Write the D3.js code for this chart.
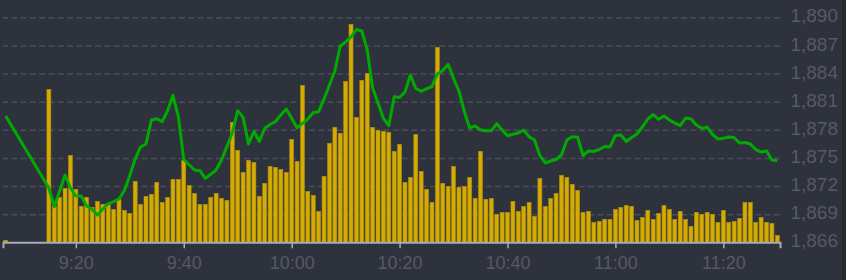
<!DOCTYPE html>
<html>
<head>
<meta charset="utf-8">
<script src="https://cdn.jsdelivr.net/npm/d3@7"></script>
<style>
  html, body { margin: 0; padding: 0; background: #2e323c; }
  svg { display: block; }
</style>
</head>
<body>
<svg id="chart"></svg>
<script>
'use strict';

// one pre-open print, then the minutes 9:15 .. 11:30
const PRE_TIME = '9:07';
const SESSION_START = '9:15';
const SESSION_END = '11:30';

const volumes = [
  2,
  153, 36, 45, 54, 87, 53, 36, 45, 35, 41, 38, 39, 33, 43, 32, 29,
  61, 38, 46, 48, 60, 40, 45, 63, 63, 82,
  57, 49, 38, 38, 45, 49, 44, 42, 120, 92,
  70, 82, 80, 46, 59, 76, 75, 73, 70, 103,
  81, 157, 51, 47, 31, 66, 99, 115, 109, 161,
  218, 125, 162, 169, 115, 112, 111, 110, 91, 98,
  60, 65, 108, 71, 53, 40, 195, 59, 56, 76,
  55, 56, 65, 44, 91, 43, 44, 28, 30, 30,
  41, 31, 36, 40, 26, 64, 36, 44, 49, 67,
  65, 58, 52, 30, 31, 20, 21, 23, 23, 33,
  35, 37, 36, 22, 25, 32, 23, 29, 37, 33,
  23, 31, 23, 16, 30, 28, 30, 28, 20, 32,
  20, 21, 24, 40, 40, 20, 25, 20, 19, 7,
];

const prices = [
  1879.47,
  1871.79, 1869.80, 1871.47, 1873.18, 1871.79, 1870.94, 1870.94, 1869.87, 1869.50, 1868.91, 1869.55, 1870.09, 1870.33, 1870.62, 1871.53, 1873.13,
  1874.89, 1876.17, 1876.49, 1879.05, 1879.18, 1878.86, 1880.04, 1881.68, 1879.40, 1874.85,
  1874.25, 1873.71, 1873.64, 1872.83, 1873.25, 1873.71, 1874.78, 1876.20, 1877.69, 1880.04,
  1879.33, 1876.49, 1877.84, 1876.77, 1878.16, 1878.57, 1878.89, 1879.58, 1880.22, 1879.23,
  1878.22, 1878.69, 1879.15, 1879.85, 1879.93, 1881.29, 1882.78, 1884.27, 1886.94, 1887.37,
  1887.90, 1888.70, 1888.54, 1886.51, 1882.46, 1880.86, 1879.21, 1878.46, 1881.53, 1881.45,
  1882.03, 1883.85, 1882.41, 1882.11, 1882.38, 1882.60, 1883.95, 1884.33, 1884.99, 1883.47,
  1882.14, 1879.95, 1878.19, 1878.41, 1877.98, 1877.91, 1877.90, 1878.65, 1877.98, 1877.36,
  1877.52, 1877.66, 1877.98, 1877.26, 1876.91, 1875.26, 1874.46, 1874.67, 1874.83, 1875.31,
  1876.91, 1877.26, 1877.20, 1875.26, 1875.74, 1875.69, 1875.90, 1876.22, 1876.20, 1877.39,
  1877.45, 1876.75, 1877.18, 1877.55, 1878.30, 1879.15, 1879.63, 1879.12, 1879.47, 1879.05,
  1878.73, 1878.44, 1879.26, 1879.15, 1878.51, 1878.16, 1878.27, 1877.50, 1877.02, 1877.09,
  1877.23, 1877.18, 1876.59, 1876.65, 1876.49, 1875.90, 1875.63, 1875.74, 1874.78, 1874.70,
];

const priceTicks = [1866, 1869, 1872, 1875, 1878, 1881, 1884, 1887, 1890];
const volumeMax = 225;

const parseT = d3.timeParse('%H:%M');
const times = [parseT(PRE_TIME)]
  .concat(d3.timeMinute.range(parseT(SESSION_START), d3.timeMinute.offset(parseT(SESSION_END), 1)));

const data = times.map((t, i) => ({ t: t, vol: volumes[i], price: prices[i] }));

const width = 846;
const height = 280;
const plotLeft = 3, plotRight = 780, plotTop = 17.3, plotBottom = 242.3;

const svg = d3.select('#chart')
  .attr('width', width)
  .attr('height', height)
  .style('font-family', '"Open Sans", sans-serif');

// thin dark strip at the right edge
svg.append('rect')
  .attr('x', 842).attr('y', 0).attr('width', 4).attr('height', height)
  .attr('fill', '#262930');

const x = d3.scaleTime()
  .domain([d3.timeSecond.offset(times[0], -30), d3.timeSecond.offset(times[times.length - 1], 30)])
  .range([plotLeft, plotRight]);

const y = d3.scaleLinear()
  .domain([1866, 1890])
  .range([plotBottom, plotTop]);

const yVol = d3.scaleLinear()
  .domain([0, volumeMax])
  .range([plotBottom, plotTop]);

// dashed grid
const grid = svg.append('g')
  .attr('transform', `translate(${plotRight},0)`)
  .call(d3.axisLeft(y).tickValues(priceTicks.slice(1)).tickSize(plotRight - plotLeft).tickFormat(''));
grid.select('.domain').remove();
grid.selectAll('line')
  .attr('stroke', '#4a4e58')
  .attr('stroke-width', 1.5)
  .attr('stroke-dasharray', '6,3.3');

// volume bars
const barW = 4;
svg.append('g')
  .selectAll('rect')
  .data(data)
  .enter()
  .append('rect')
  .attr('x', (d) => x(d.t) - barW / 2)
  .attr('y', (d) => yVol(d.vol))
  .attr('width', barW)
  .attr('height', (d) => yVol(0) - yVol(d.vol))
  .attr('fill', '#d4ab00')
  .attr('stroke', '#a88a12')
  .attr('stroke-width', 0.6);

// price line
const line = d3.line()
  .x((d) => x(d.t))
  .y((d) => y(d.price));

svg.append('path')
  .datum(data)
  .attr('d', line)
  .attr('fill', 'none')
  .attr('stroke', '#00aa00')
  .attr('stroke-width', 3)
  .attr('stroke-linejoin', 'round');

// x axis
const xAxis = svg.append('g')
  .attr('transform', `translate(0,${plotBottom})`)
  .call(d3.axisBottom(x)
    .ticks(d3.timeMinute.every(20))
    .tickFormat(d3.timeFormat('%-H:%M'))
    .tickSizeOuter(0)
    .tickSize(6)
    .tickPadding(8));
xAxis.select('.domain').attr('stroke', '#a8acb8').attr('stroke-width', 2);
xAxis.selectAll('.tick line').attr('stroke', '#a8acb8').attr('stroke-width', 1.5);
xAxis.selectAll('.tick text')
  .attr('fill', '#565a63')
  .attr('font-size', 18);

// price labels on the right
const yAxis = svg.append('g')
  .attr('transform', 'translate(838,-1.5)')
  .call(d3.axisLeft(y).tickValues(priceTicks).tickSize(0).tickPadding(0).tickFormat(d3.format(',')));
yAxis.select('.domain').remove();
yAxis.selectAll('.tick text')
  .attr('fill', '#565a63')
  .attr('font-size', 19);
</script>
</body>
</html>
